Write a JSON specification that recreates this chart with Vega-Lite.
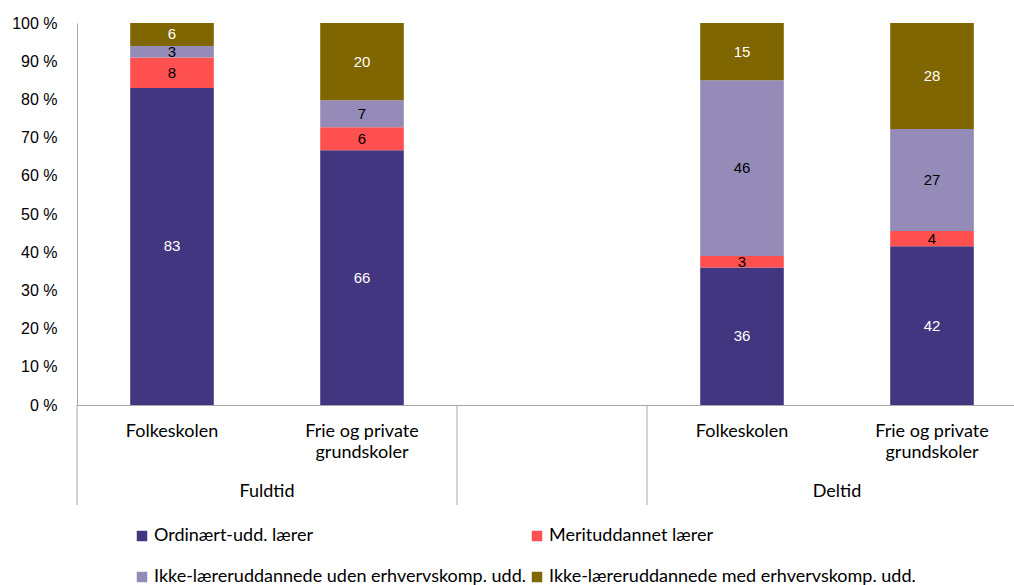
{
  "$schema": "https://vega.github.io/schema/vega-lite/v6.json",
  "autosize": {"type": "none"},
  "width": 937,
  "height": 382,
  "padding": {"left": 77, "top": 23, "right": 0, "bottom": 180},
  "config": {"view": {"stroke": null}, "font": "Lato"},
  "datasets": {
    "andele": [
      {"gruppe": "Fuldtid", "skole": "Folkeskolen", "serie": "Ordinært-udd. lærer", "andel": 83},
      {"gruppe": "Fuldtid", "skole": "Folkeskolen", "serie": "Merituddannet lærer", "andel": 8},
      {"gruppe": "Fuldtid", "skole": "Folkeskolen", "serie": "Ikke-læreruddannede uden erhvervskomp. udd.", "andel": 3},
      {"gruppe": "Fuldtid", "skole": "Folkeskolen", "serie": "Ikke-læreruddannede med erhvervskomp. udd.", "andel": 6},
      {"gruppe": "Fuldtid", "skole": "Frie og private\ngrundskoler", "serie": "Ordinært-udd. lærer", "andel": 66},
      {"gruppe": "Fuldtid", "skole": "Frie og private\ngrundskoler", "serie": "Merituddannet lærer", "andel": 6},
      {"gruppe": "Fuldtid", "skole": "Frie og private\ngrundskoler", "serie": "Ikke-læreruddannede uden erhvervskomp. udd.", "andel": 7},
      {"gruppe": "Fuldtid", "skole": "Frie og private\ngrundskoler", "serie": "Ikke-læreruddannede med erhvervskomp. udd.", "andel": 20},
      {"gruppe": "Deltid", "skole": "Folkeskolen", "serie": "Ordinært-udd. lærer", "andel": 36},
      {"gruppe": "Deltid", "skole": "Folkeskolen", "serie": "Merituddannet lærer", "andel": 3},
      {"gruppe": "Deltid", "skole": "Folkeskolen", "serie": "Ikke-læreruddannede uden erhvervskomp. udd.", "andel": 46},
      {"gruppe": "Deltid", "skole": "Folkeskolen", "serie": "Ikke-læreruddannede med erhvervskomp. udd.", "andel": 15},
      {"gruppe": "Deltid", "skole": "Frie og private\ngrundskoler", "serie": "Ordinært-udd. lærer", "andel": 42},
      {"gruppe": "Deltid", "skole": "Frie og private\ngrundskoler", "serie": "Merituddannet lærer", "andel": 4},
      {"gruppe": "Deltid", "skole": "Frie og private\ngrundskoler", "serie": "Ikke-læreruddannede uden erhvervskomp. udd.", "andel": 27},
      {"gruppe": "Deltid", "skole": "Frie og private\ngrundskoler", "serie": "Ikke-læreruddannede med erhvervskomp. udd.", "andel": 28}
    ],
    "skoler": [
      {"gruppe": "Fuldtid", "skole": "Folkeskolen"},
      {"gruppe": "Fuldtid", "skole": "Frie og private\ngrundskoler"},
      {"gruppe": "Deltid", "skole": "Folkeskolen"},
      {"gruppe": "Deltid", "skole": "Frie og private\ngrundskoler"}
    ],
    "grupper": [
      {"gruppe": "Fuldtid"},
      {"gruppe": "Deltid"}
    ]
  },
  "layer": [
    {
      "data": {"name": "andele"},
      "mark": {"type": "bar"},
      "encoding": {
        "x": {
          "field": "gruppe", "type": "nominal", "sort": null,
          "scale": {"domain": ["Fuldtid", "Deltid"], "range": [0, 950], "paddingInner": 0.33333, "paddingOuter": 0},
          "axis": {"title": null, "ticks": false, "labelAngle": 0, "labelPadding": 77, "labelFontSize": 18, "labelFont": "Lato", "labelColor": "#000000", "domainColor": "#a6a6a6", "domainWidth": 1}
        },
        "xOffset": {
          "field": "skole", "type": "nominal",
          "scale": {"domain": ["Folkeskolen", "Frie og private\ngrundskoler"], "paddingInner": 0.56, "paddingOuter": 0.28}
        },
        "y": {
          "field": "andel", "type": "quantitative", "stack": "normalize",
          "scale": {"domain": [0, 1]},
          "axis": {"title": null, "values": [0, 0.1, 0.2, 0.3, 0.4, 0.5, 0.6, 0.7, 0.8, 0.9, 1], "tickCount": 20, "labelOverlap": false, "labelExpr": "format(datum.value * 100, '.0f') + ' %'", "ticks": false, "grid": false, "labelPadding": 20, "labelFont": "Liberation Sans", "labelFontSize": 16, "labelColor": "#000000", "domainColor": "#a6a6a6"}
        },
        "order": {"field": "serie", "sort": "descending"},
        "color": {
          "field": "serie", "type": "nominal",
          "sort": ["Ordinært-udd. lærer", "Merituddannet lærer", "Ikke-læreruddannede uden erhvervskomp. udd.", "Ikke-læreruddannede med erhvervskomp. udd."],
          "scale": {
            "domain": ["Ordinært-udd. lærer", "Merituddannet lærer", "Ikke-læreruddannede uden erhvervskomp. udd.", "Ikke-læreruddannede med erhvervskomp. udd."],
            "range": ["#433681", "#ff5050", "#948bb8", "#7f6600"]
          },
          "legend": {
            "title": null, "orient": "none", "direction": "horizontal", "legendX": 56, "legendY": 504, "columns": 2,
            "symbolType": "square", "symbolSize": 110, "symbolStrokeWidth": 0,
            "labelFont": "Lato", "labelFontSize": 18, "labelColor": "#000000", "labelOffset": 3, "labelLimit": 600,
            "rowPadding": 23, "columnPadding": 2
          }
        }
      }
    },
    {
      "data": {"name": "andele"},
      "mark": {"type": "text", "font": "Liberation Sans", "fontSize": 15, "baseline": "middle", "align": "center"},
      "encoding": {
        "x": {"field": "gruppe", "type": "nominal", "sort": null},
        "xOffset": {"field": "skole", "type": "nominal"},
        "y": {"field": "andel", "type": "quantitative", "stack": "normalize", "bandPosition": 0.5},
        "order": {"field": "serie", "sort": "descending"},
        "detail": {"field": "serie", "type": "nominal"},
        "text": {"field": "andel", "type": "quantitative"},
        "color": {
          "condition": {"test": "datum.serie == 'Ordinært-udd. lærer' || datum.serie == 'Ikke-læreruddannede med erhvervskomp. udd.'", "value": "#ffffff"},
          "value": "#000000"
        }
      }
    },
    {
      "data": {"name": "skoler"},
      "mark": {"type": "text", "font": "Lato", "fontSize": 18, "baseline": "middle", "align": "center", "lineBreak": "\n", "lineHeight": 21, "color": "#000000"},
      "encoding": {
        "x": {"field": "gruppe", "type": "nominal", "sort": null},
        "xOffset": {"field": "skole", "type": "nominal"},
        "y": {"datum": -0.07, "type": "quantitative"},
        "text": {"field": "skole", "type": "nominal"}
      }
    },
    {
      "data": {"name": "grupper"},
      "mark": {"type": "rule", "color": "#a6a6a6", "strokeWidth": 1},
      "encoding": {
        "x": {"field": "gruppe", "type": "nominal", "sort": null, "bandPosition": 0},
        "y": {"datum": 0, "type": "quantitative"},
        "y2": {"datum": -0.262}
      }
    },
    {
      "data": {"name": "grupper"},
      "mark": {"type": "rule", "color": "#a6a6a6", "strokeWidth": 1},
      "encoding": {
        "x": {"field": "gruppe", "type": "nominal", "sort": null, "bandPosition": 1},
        "y": {"datum": 0, "type": "quantitative"},
        "y2": {"datum": -0.262}
      }
    }
  ]
}
